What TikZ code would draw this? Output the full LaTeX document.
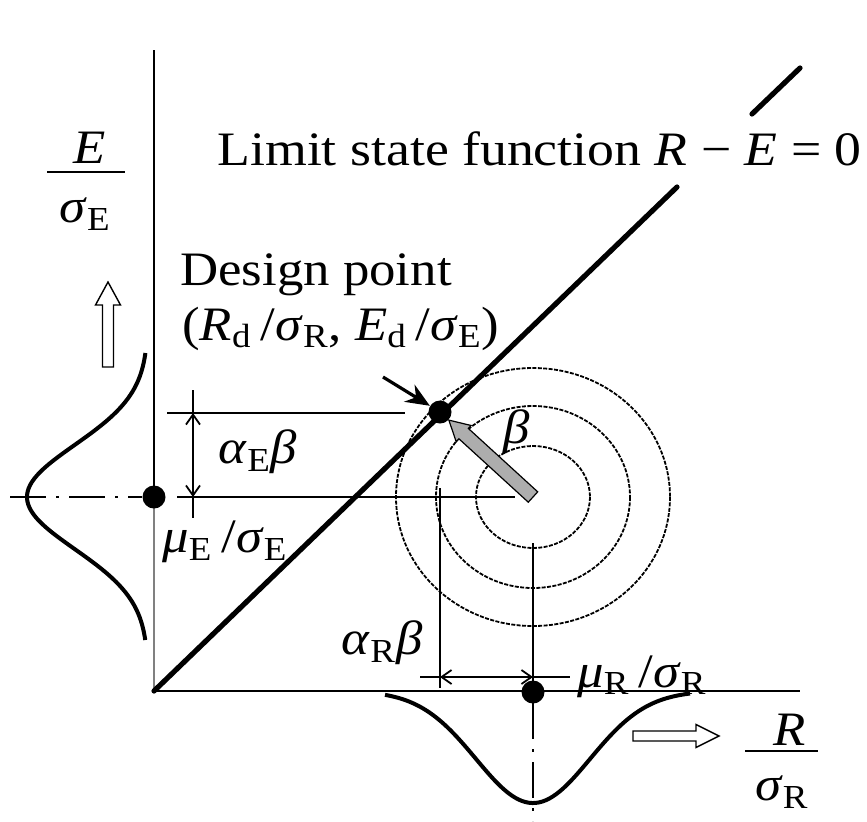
\documentclass[tikz,border=0pt]{standalone}
\usepackage{fontspec}
\setmainfont{Liberation Serif}
\usepackage{graphicx}
\usetikzlibrary{arrows.meta,calc}
\newcommand\W[1]{\scalebox{1.1}[1]{#1}}
\newcommand\vi[1]{\textit{#1}}
\newcommand\lowx[1]{\textsubscript{#1}}
\begin{document}
\begin{tikzpicture}[x=0.5pt,y=-0.5pt,
  lbl/.style={inner sep=0pt, font=\fontsize{24}{28}\selectfont},
  dot/.style={circle, fill=black, inner sep=0pt, minimum size=11.5pt},
  dimline/.style={line width=0.9pt},
  circ/.style={line width=0.9pt, dash pattern=on 2pt off 0.7pt},
  gauss/.style={line width=2pt},
  axisline/.style={line width=1.2pt},
  limitline/.style={line width=2.6pt, line cap=round},
  dashdotline/.style={line width=0.9pt, dash pattern=on 18pt off 5pt on 1.5pt off 5pt},
  hollow/.style={draw=black, line width=0.7pt, fill=white},
  dimtips/.style={{Straight Barb[length=5pt,width=7pt]}-{Straight Barb[length=5pt,width=7pt]}}
]
\fill[white] (0,0) rectangle (867,821);
\useasboundingbox (0,0) rectangle (867,821);

% key coordinates
\coordinate (Etop) at (154,50);
\coordinate (O) at (154,691);
\coordinate (Rend) at (800,691);
\coordinate (C) at (533,497);
\coordinate (L1) at (677,187);
\coordinate (L2) at (752,114);
\coordinate (Ltop) at (800,68);

% concentric dashed circles
\draw[circ] (C) ellipse [x radius=57, y radius=51];
\draw[circ] (C) ellipse [x radius=97, y radius=91];
\draw[circ] (C) ellipse [x radius=137, y radius=129];

% axes
\draw[axisline] (Etop) -- (154,497);
\draw[axisline, black!50] (154,497) -- (O);
\draw[axisline] (O) -- (Rend);

% distributions
\draw[gauss] plot[domain=-144:143, samples=90, smooth] ({148-121*exp(-0.5*(\x/52)*(\x/52))}, {497+\x});
\draw[gauss] plot[domain=-148:157, samples=90, smooth] ({533+\x}, {691+112*exp(-0.5*(\x/57)*(\x/57))});

% dash-dot mean lines
\coordinate (dl1) at (10,497);
\coordinate (dl2) at (142,497);
\draw[dashdotline] (dl1) -- (dl2);
\coordinate (dv1) at (533,703);
\coordinate (dv2) at (533,821);
\draw[dashdotline] (dv1) -- (dv2);

% reference lines
\coordinate (hd1) at (167,413); \coordinate (hd2) at (405,413);
\coordinate (hc1) at (177,497); \coordinate (hc2) at (515,497);
\draw[dimline] (hd1) -- (hd2);
\draw[dimline] (hc1) -- (hc2);
\coordinate (vd1) at (440,488); \coordinate (vd2) at (440,688);
\coordinate (vc1) at (533,543); \coordinate (vc2) at (533,688);
\draw[dimline] (vd1) -- (vd2);
\draw[dimline] (vc1) -- (vc2);

% dimension alpha_E beta
\coordinate (ve1) at (193,390); \coordinate (ve2) at (193,518);
\coordinate (ta) at (193,413); \coordinate (tb) at (193,497);
\draw[dimline] (ve1) -- (ve2);
\draw[dimline, dimtips] (ta) -- (tb);

% dimension alpha_R beta
\coordinate (he1) at (420,677); \coordinate (he2) at (570,677);
\coordinate (tc) at (440,677); \coordinate (td) at (533,677);
\draw[dimline] (he1) -- (he2);
\draw[dimline, dimtips] (tc) -- (td);

% limit state line
\draw[limitline] (O) -- (L1);
\draw[limitline] (L2) -- (Ltop);

% dots
\node[dot] (dp) at (440,412) {};
\node[dot] (muEdot) at (154,497) {};
\node[dot] (muRdot) at (533,692) {};

% black pointer arrow to design point
\coordinate (ps) at (383,377);
\draw[line width=1.6pt, -{Stealth[length=12pt,width=10pt]}] (ps) -- (dp);

% grey beta arrow
\coordinate (P) at ($(dp.center)!6pt!(C)$);
\coordinate (B) at ($(P)!10pt!(C)$);
\filldraw[fill=black!32, draw=black, line width=0.6pt, line join=miter]
  ($(C)!3.5pt!90:(P)$) -- ($(B)!3.5pt!90:(P)$) -- ($(B)!5.5pt!90:(P)$) -- (P)
  -- ($(B)!5.5pt!-90:(P)$) -- ($(B)!3.5pt!-90:(P)$) -- ($(C)!3.5pt!-90:(P)$) -- cycle;

% hollow direction arrows
\draw[hollow] (102.5,367) -- (102.5,305) -- (95.5,305) -- (108,282) -- (120.5,305) -- (113.5,305) -- (113.5,367) -- cycle;
\draw[hollow] (633,731) -- (696,731) -- (696,724.5) -- (719,736) -- (696,747.5) -- (696,741) -- (633,741) -- cycle;

% labels
\node[lbl, anchor=base west] (lim) at (217,165) {\scalebox{1.12}[1]{Limit state function \vi{R} − \vi{E} = 0}};
\node[lbl, anchor=base west] (dpt) at (180,285) {\W{Design point}};
\node[lbl, anchor=base west] (dpc) at (182,340) {\W{(\vi{R}\lowx{d}\,/\vi{σ}\lowx{R}, \vi{E}\lowx{d}\,/\vi{σ}\lowx{E})}};
\node[lbl] (aEb) at (258,452) {\W{\vi{α}\lowx{E}\vi{β}}};
\node[lbl] (muE) at (225,542) {\W{\vi{μ}\lowx{E}\,/\vi{σ}\lowx{E}}};
\node[lbl] (beta) at (517,432) {\W{\vi{β}}};
\node[lbl] (aRb) at (382,643) {\W{\vi{α}\lowx{R}\vi{β}}};
\node[lbl, anchor=base west] (muR) at (577,687) {\W{\vi{μ}\lowx{R}\,/\vi{σ}\lowx{R}}};

% axis fractions
\node[lbl] (Rn) at (790,730) {\W{\vi{R}}};
\coordinate (rb1) at (745,751); \coordinate (rb2) at (818,751);
\draw[line width=1pt] (rb1) -- (rb2);
\node[lbl] (Rd) at (782,792) {\W{\vi{σ}\lowx{R}}};
\node[lbl] (En) at (90,148) {\W{\vi{E}}};
\coordinate (eb1) at (47,172); \coordinate (eb2) at (125,172);
\draw[line width=1pt] (eb1) -- (eb2);
\node[lbl] (Ed) at (85,214) {\W{\vi{σ}\lowx{E}}};
\end{tikzpicture}
\end{document}
